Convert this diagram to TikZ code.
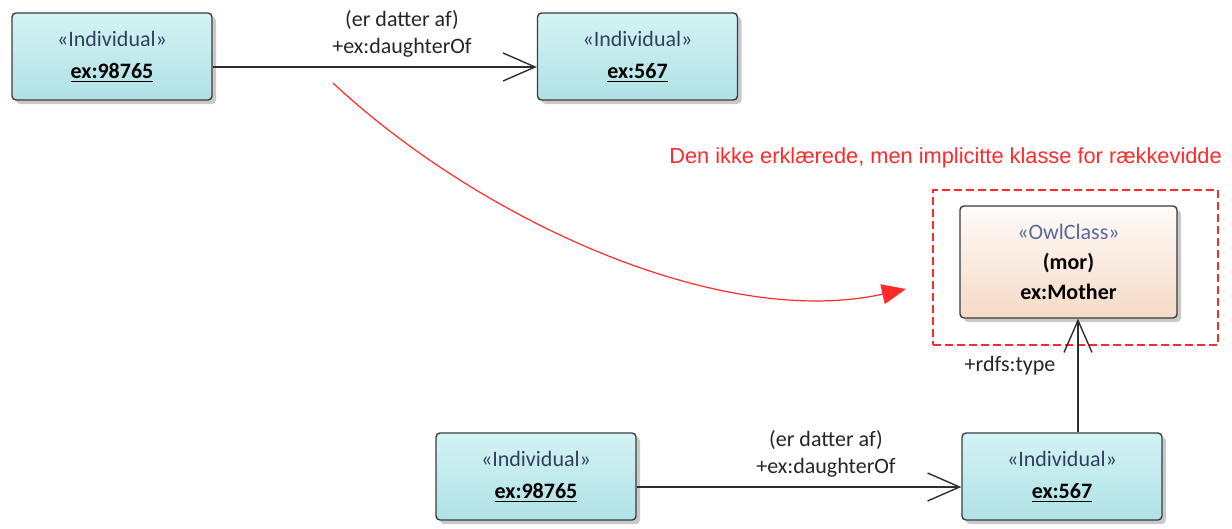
\documentclass[tikz,border=0pt]{standalone}
\usepackage{fontspec}
\setmainfont{Carlito}
\newfontfamily\notefont{Liberation Sans}
\usetikzlibrary{arrows.meta,shadows}

\definecolor{cyanTop}{HTML}{D3F3F4}
\definecolor{cyanBot}{HTML}{B0E1E5}
\definecolor{peachTop}{HTML}{FEFBF8}
\definecolor{peachBot}{HTML}{F6DAC6}
\definecolor{boxline}{HTML}{3C3C3C}
\definecolor{stereo}{HTML}{333F5E}
\definecolor{owlstereo}{HTML}{5868A0}
\definecolor{noteRed}{HTML}{FF2A2A}
\definecolor{linkGray}{HTML}{2E2E2E}

% bold name with a heavy underline
\newcommand\instname[1]{\setbox0\hbox{\textbf{#1}}\rlap{\rule[-4pt]{\wd0}{1.6pt}}\box0}

\begin{document}
\begin{tikzpicture}[x=1pt,y=-1pt,
  umlbox/.style={draw=boxline, line width=1.4pt, rounded corners=4pt,
    drop shadow={shadow xshift=4pt, shadow yshift=-4pt, opacity=0.3, fill=black!70},
    align=center, inner sep=0pt, font=\fontsize{22}{32}\selectfont},
  indiv/.style={umlbox, minimum width=200pt, minimum height=87pt,
    top color=cyanTop, bottom color=cyanBot},
  owlbox/.style={umlbox, minimum width=217pt, minimum height=112pt,
    top color=peachTop, bottom color=peachBot, font=\fontsize{22}{30}\selectfont},
  link/.style={draw=linkGray, line width=1.4pt,
    -{Straight Barb[length=32pt,width=28pt]}},
  linklabel/.style={font=\fontsize{22}{27}\selectfont, text=black!85, align=center, inner sep=0pt},
  note/.style={draw=noteRed, line width=1.2pt, -{Triangle[length=24pt,width=20pt]}},
]
\useasboundingbox (0,0) rectangle (1232,528);

% individuals and the class
\node[indiv] (A1) at (112,56.5) {\textcolor{stereo}{«Individual»}\\\instname{ex:98765}};
\node[indiv] (B1) at (637.5,56.5) {\textcolor{stereo}{«Individual»}\\\instname{ex:567}};
\node[owlbox] (C) at (1068.5,262) {\textcolor{owlstereo}{«OwlClass»}\\\textbf{(mor)}\\\textbf{ex:Mother}};
\node[indiv] (A2) at (536,476.5) {\textcolor{stereo}{«Individual»}\\\instname{ex:98765}};
\node[indiv] (B2) at (1062,476.5) {\textcolor{stereo}{«Individual»}\\\instname{ex:567}};

% implicit range frame and its caption
\node[draw=noteRed, line width=1.5pt, dash pattern=on 8pt off 4pt,
  minimum width=285pt, minimum height=155pt, inner sep=0pt] (R) at (1075.5,267.5) {};
\node[font=\notefont\fontsize{21.8}{26}\selectfont, text=noteRed, anchor=east, inner sep=0pt]
  (Rcap) at (1222,158) {Den ikke erklærede, men implicitte klasse for rækkevidde};

% connector levels
\coordinate (topLine) at (0,67);
\coordinate (botLine) at (0,487);
\coordinate (typeLine) at (1078,0);

% upper property link
\draw[link] (A1.east |- topLine) -- (B1.west |- topLine);
\node[linklabel] (L1) at (402,33.5) {(er datter af)\\+ex:daughterOf};

% lower property link
\draw[link] (A2.east |- botLine) -- (B2.west |- botLine);
\node[linklabel] (L2) at (826,453.5) {(er datter af)\\+ex:daughterOf};

% rdf:type link
\draw[link] (B2.north -| typeLine) -- (C.south -| typeLine);
\node[linklabel] (L3) at (1010,366) {+rdfs:type};

% red pointer to the implicit class
\coordinate (curveStart) at (333,83);
\coordinate (curveEnd) at (906,289);
\draw[note] (curveStart) .. controls (480,220) and (720,330) .. (curveEnd);
\end{tikzpicture}
\end{document}
